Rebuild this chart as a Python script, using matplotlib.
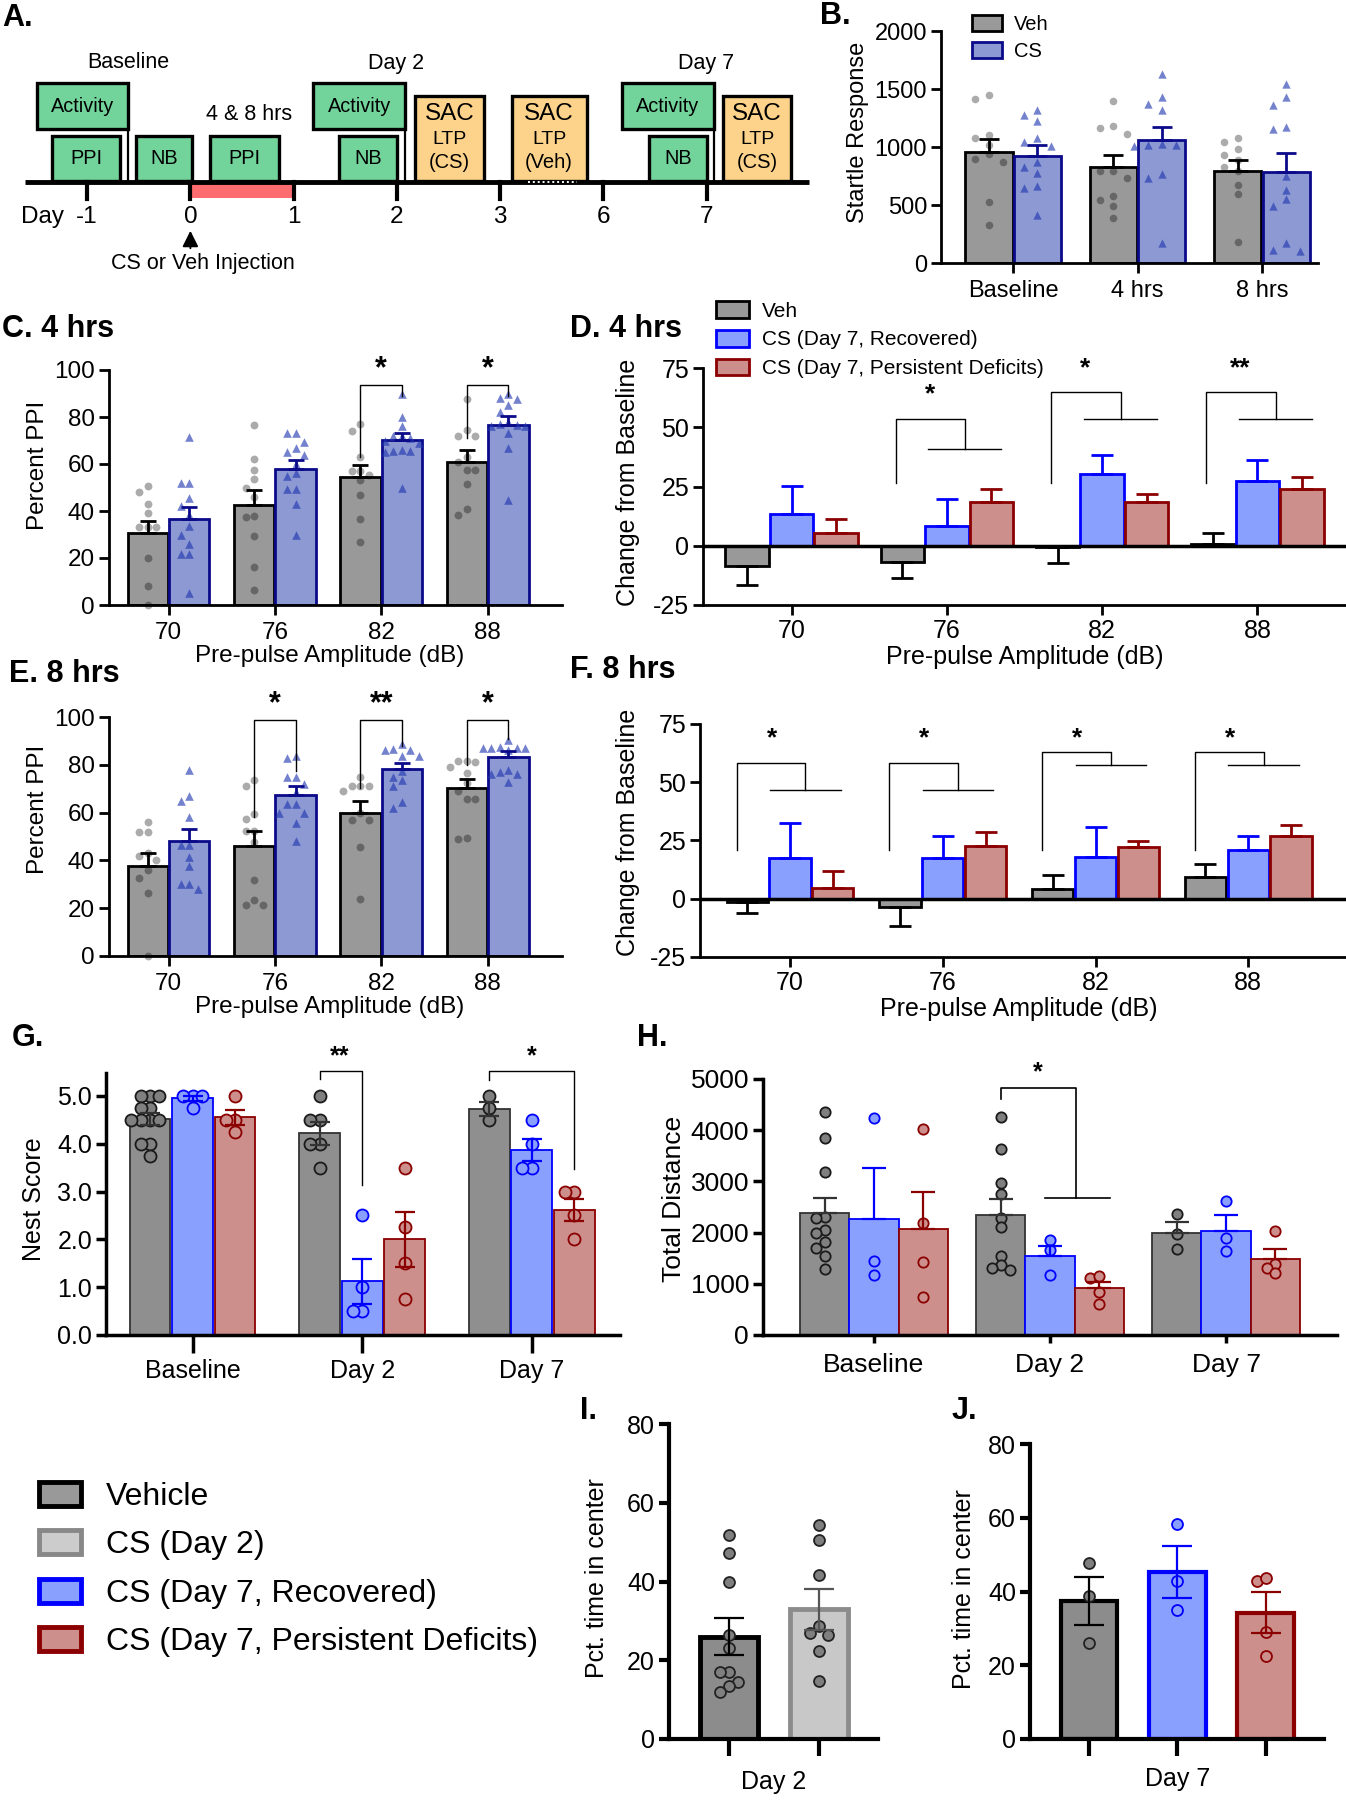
import numpy as np
import matplotlib
matplotlib.use('Agg')
import matplotlib.pyplot as plt
from matplotlib.patches import Patch, Rectangle
from matplotlib.ticker import FormatStrFormatter

plt.rcParams['font.family'] = ['Liberation Sans', 'DejaVu Sans']
plt.rcParams['axes.unicode_minus'] = False

W, H = 1346, 1800

# ---- A. timeline (schematic, in day-slot units)
timeline_days = ['-1', '0', '1', '2', '3', '6', '7']
sessions = [  # label, start, end, row
    ('Activity', -1.49, -0.60, 'upper'),
    ('PPI', -1.34, -0.68, 'lower'),
    ('NB', -0.53, 0.02, 'lower'),
    ('PPI', 0.19, 0.86, 'lower'),
    ('Activity', 1.19, 2.08, 'upper'),
    ('NB', 1.44, 2.00, 'lower'),
    ('SAC|LTP|(CS)', 2.18, 2.84, 'tall'),
    ('SAC|LTP|(Veh)', 3.11, 3.84, 'tall'),
    ('Activity', 4.18, 5.07, 'upper'),
    ('NB', 4.44, 5.00, 'lower'),
    ('SAC|LTP|(CS)', 5.16, 5.82, 'tall'),
]
phase_labels = [('Baseline', -0.60), ('Day 2', 1.99), ('Day 7', 4.99)]

# ---- B. startle response
startle_groups = ['Baseline', '4 hrs', '8 hrs']
startle_veh_mean = [960, 825, 795]
startle_veh_sem = [105, 110, 90]
startle_cs_mean = [925, 1060, 785]
startle_cs_sem = [90, 115, 160]
startle_veh_pts = [
    [1410, 1445, 1100, 1080, 1020, 940, 900, 870, 530, 330],
    [1400, 1180, 1160, 1110, 790, 790, 730, 580, 540, 490, 390],
    [1075, 985, 1040, 935, 885, 830, 795, 675, 595, 180],
]
startle_cs_pts = [
    [1315, 1275, 1220, 1080, 1045, 1005, 870, 830, 775, 665, 645, 415],
    [1630, 1430, 1370, 1320, 1030, 1020, 1020, 1010, 770, 730, 170],
    [1540, 1430, 1360, 1175, 1155, 750, 630, 550, 490, 170, 105, 110],
]

# ---- C / E. percent PPI
db_levels = ['70', '76', '82', '88']
ppi4_veh_mean = [30.5, 42.5, 54.5, 60.8]
ppi4_veh_sem = [5.4, 6.4, 5.0, 5.0]
ppi4_cs_mean = [36.6, 57.7, 70.3, 76.8]
ppi4_cs_sem = [5.0, 4.1, 3.0, 3.5]
ppi4_veh_pts = [
    [48, 50.5, 43, 39, 33, 33, 33, 20, 8, 0],
    [76.5, 62, 57.5, 53.5, 50, 46, 38, 37.5, 29.5, 16, 6.5],
    [77, 74, 63, 57, 57, 55.5, 53, 47, 36.5, 27],
    [87.5, 72, 72, 74.5, 63, 61, 57.5, 57.5, 51.5, 41, 38.5],
]
ppi4_cs_pts = [
    [71.5, 52, 52, 45.5, 42, 38.5, 33.5, 30, 26, 21.5, 21.5, 5],
    [73, 73, 69.5, 67, 65, 64, 60, 56, 55, 49.5, 49.5, 43, 30],
    [90, 80, 76, 72, 72, 71, 70, 69, 66, 65.5, 65.5, 65, 50],
    [90, 88, 87.5, 85, 82, 78, 77, 76.5, 76, 76, 73, 67, 44.5],
]
ppi8_veh_mean = [37.6, 46.0, 59.7, 70.1]
ppi8_veh_sem = [5.3, 6.3, 5.0, 3.9]
ppi8_cs_mean = [48.1, 67.5, 78.3, 83.2]
ppi8_cs_sem = [5.2, 3.7, 2.6, 2.4]
ppi8_veh_pts = [
    [56, 52, 52, 43, 42, 40, 36, 32.5, 26.5, 0],
    [73.5, 71, 59.5, 57.5, 52.5, 52.5, 47.5, 32, 23.5, 21.5, 21.5],
    [75, 71, 71, 71, 69, 60, 57, 57, 45.5, 24],
    [81.5, 81.5, 79, 81, 76.5, 72.5, 69, 65.5, 65.5, 49, 49.5],
]
ppi8_cs_pts = [
    [78, 67, 65, 58, 46.5, 46.5, 41.5, 37.5, 30, 30, 28],
    [83, 83.5, 75, 75, 72, 68.5, 63.5, 63.5, 60, 60, 55.5, 48],
    [88.5, 86, 86, 86.5, 83.5, 83.5, 77.5, 75, 73.5, 71, 64.5, 62],
    [90.5, 87, 87, 87, 87, 87.5, 86, 78, 77, 76, 76, 73],
]

# ---- D / F. change from baseline
chg4_veh_mean = [-8.7, -6.9, -0.5, 0.6]
chg4_veh_sem = [7.7, 6.9, 6.7, 4.9]
chg4_rec_mean = [13.2, 8.3, 30.2, 27.2]
chg4_rec_sem = [11.9, 11.5, 8.3, 8.8]
chg4_def_mean = [5.3, 18.5, 18.5, 23.9]
chg4_def_sem = [5.9, 5.5, 3.4, 5.0]
chg8_veh_mean = [-1.4, -3.6, 4.3, 9.3]
chg8_veh_sem = [4.7, 8.1, 5.7, 5.8]
chg8_rec_mean = [17.5, 17.4, 18.1, 20.9]
chg8_rec_sem = [14.8, 9.7, 12.7, 6.2]
chg8_def_mean = [4.7, 22.5, 22.1, 26.9]
chg8_def_sem = [7.0, 6.0, 2.8, 4.7]

# ---- G. nest score
days = ['Baseline', 'Day 2', 'Day 7']
nest_veh_mean = [4.52, 4.22, 4.73]
nest_veh_sem = [0.12, 0.24, 0.15]
nest_rec_mean = [4.95, 1.12, 3.87]
nest_rec_sem = [0.05, 0.47, 0.24]
nest_def_mean = [4.55, 2.0, 2.62]
nest_def_sem = [0.16, 0.58, 0.23]
nest_veh_pts = [[5, 5, 5, 4.75, 4.75, 4.5, 4.5, 4.5, 4.5, 4, 4, 3.75],
                [5, 4.5, 4.5, 4, 4, 3.5], [5, 4.75, 4.5]]
nest_rec_pts = [[5, 5, 5, 4.75], [2.5, 1, 0.5, 0.5], [4.5, 4, 3.5, 3.5]]
nest_def_pts = [[5, 4.5, 4.5, 4.25], [3.5, 2.25, 1.5, 0.75], [3, 3, 2.5, 2]]

# ---- H. total distance
dist_veh_mean = [2385, 2335, 1990]
dist_veh_sem = [300, 330, 215]
dist_rec_mean = [2270, 1550, 2040]
dist_rec_sem = [985, 195, 300]
dist_def_mean = [2080, 910, 1485]
dist_def_sem = [715, 125, 190]
dist_veh_pts = [[4350, 3840, 3180, 2300, 2290, 2060, 1990, 1810, 1690, 1550, 1290],
                [4250, 3640, 2970, 2750, 2290, 2100, 1540, 1360, 1260, 1310],
                [2370, 1980, 1670]]
dist_rec_pts = [[4230, 1450, 1175], [1850, 1655, 1175], [2615, 1895, 1645]]
dist_def_pts = [[4020, 2190, 1420, 740], [1110, 1145, 835, 600], [2040, 1390, 1305, 1210]]

# ---- I / J. percent time in center
center2_mean = [26.0, 33.0]
center2_sem = [4.7, 5.2]
center2_pts = [[51.7, 47.2, 39.8, 26.3, 23, 17, 17, 14.6, 13.4, 11.9],
               [54.4, 50.6, 41.7, 28.6, 26.5, 26.9, 22.4, 14.8]]
center7_mean = [37.4, 45.3, 34.3]
center7_sem = [6.4, 7.0, 5.5]
center7_pts = [[47.7, 38.9, 25.9], [58.3, 42.8, 35.1], [42.9, 43.6, 29.0, 22.4]]

# significance marks: (category, label)
ppi4_sig = [(2, '*'), (3, '*')]
ppi8_sig = [(1, '*'), (2, '**'), (3, '*')]
chg4_sig = [(1, '*'), (2, '*'), (3, '**')]
chg8_sig = [(0, '*'), (1, '*'), (2, '*'), (3, '*')]

VEH_FACE, VEH_EDGE = '#999999', 'black'
CS_FACE, CS_EDGE = '#8c99d3', '#0b0b8a'
REC_FACE, REC_EDGE = '#8aa0ff', '#0000ff'
DEF_FACE, DEF_EDGE = '#cc8f8b', '#8b0000'

fig = plt.figure(figsize=(W / 100, H / 100), dpi=100)


def fx(x):
    return x / W


def fy(y):
    return 1 - y / H


def px_axes(left, top, right, bottom):
    return fig.add_axes([fx(left), fy(bottom), (right - left) / W, (bottom - top) / H])


def style(ax, lw=2.0, size=17, xlen=7, ylen=7, xpad=5, ypad=3):
    ax.spines['top'].set_visible(False)
    ax.spines['right'].set_visible(False)
    ax.spines['left'].set_linewidth(lw)
    ax.spines['bottom'].set_linewidth(lw)
    ax.tick_params(axis='x', width=lw, length=xlen, labelsize=size, pad=xpad)
    ax.tick_params(axis='y', width=lw, length=ylen, labelsize=size, pad=ypad)


def label_px(ax, xlabel=None, xc=None, yc_x=None, ylabel=None, yx=None, yy=None, size=17):
    l, b, w, h = ax.get_position().bounds
    if xlabel:
        ax.set_xlabel(xlabel, fontsize=size, va='center')
        ax.xaxis.set_label_coords((fx(xc) - l) / w, (fy(yc_x) - b) / h)
    if ylabel:
        ax.set_ylabel(ylabel, fontsize=size, va='center')
        ax.yaxis.set_label_coords((fx(yx) - l) / w, (fy(yy) - b) / h)


def swarm(vals, step, tol):
    vals = np.asarray(vals, float)
    offs = np.zeros(len(vals))
    placed = []
    for i in np.argsort(-vals, kind='stable'):
        taken = [o for v, o in placed if abs(v - vals[i]) < tol]
        for c in [0, -1, 1, -2, 2, -3, 3, -4, 4]:
            if all(abs(c * step - o) > step * 0.5 for o in taken):
                offs[i] = c * step
                break
        placed.append((vals[i], offs[i]))
    return offs


def paired_bars(ax, vm, vs, cm, cs, vpts, cpts, step, tol, ms=32, cap=6):
    x = np.arange(len(vm))
    off, wd = 0.195, 0.38
    ax.bar(x - off, vm, wd, color=VEH_FACE, edgecolor=VEH_EDGE, lw=2, zorder=1)
    ax.bar(x + off, cm, wd, color=CS_FACE, edgecolor=CS_EDGE, lw=2, zorder=1)
    for i in range(len(x)):
        v = np.asarray(vpts[i], float)
        c = np.asarray(cpts[i], float)
        ax.scatter(x[i] - off + swarm(v, step, tol), v, s=ms, marker='o', color='black',
                   alpha=0.33, lw=0, zorder=2, clip_on=False)
        ax.scatter(x[i] + off + swarm(c, step, tol), c, s=ms * 1.2, marker='^', color='#1f35b0',
                   alpha=0.62, lw=0, zorder=2, clip_on=False)
    zero = np.zeros(len(x))
    ax.errorbar(x - off, vm, yerr=[zero, vs], fmt='none', ecolor=VEH_EDGE, elinewidth=2,
                capsize=cap, capthick=2, zorder=3)
    ax.errorbar(x + off, cm, yerr=[zero, cs], fmt='none', ecolor=CS_EDGE, elinewidth=2,
                capsize=cap, capthick=2, zorder=3)
    ax.set_xticks(x)


def sig_bracket(ax, xl, xr, ytop, yl, yr, lab, ylab, fs=22):
    ax.plot([xl, xl, xr, xr], [yl, ytop, ytop, yr], color='black', lw=1, clip_on=False, zorder=4)
    ax.text((xl + xr) / 2, ylab, lab, ha='center', va='center', fontsize=fs,
            weight='bold', clip_on=False)


def change_bars(ax, means, sems, wd, offs):
    x = np.arange(len(means[0]))
    styles = [(VEH_FACE, VEH_EDGE), (REC_FACE, REC_EDGE), (DEF_FACE, DEF_EDGE)]
    for j, (fc, ec) in enumerate(styles):
        m = np.asarray(means[j], float)
        s = np.asarray(sems[j], float)
        ax.bar(x + offs[j], m, wd, color=fc, edgecolor=ec, lw=2, zorder=1)
        lower = np.where(m < 0, s, 0)
        upper = np.where(m >= 0, s, 0)
        ax.errorbar(x + offs[j], m, yerr=[lower, upper], fmt='none', ecolor=ec, elinewidth=2,
                    capsize=8, capthick=2, zorder=3)
    ax.axhline(0, color='black', lw=2.5, zorder=2)
    ax.set_xticks(x)


def fork(ax, cat, yleg, ytop, ysub, lab, ylab, xl=-0.33, xr=0.12, s1=-0.12, s2=0.35, xlab=-0.11):
    ax.plot([cat + xl, cat + xl, cat + xr, cat + xr], [yleg, ytop, ytop, ysub],
            color='black', lw=1, clip_on=False, zorder=4)
    ax.plot([cat + s1, cat + s2], [ysub, ysub], color='black', lw=1, clip_on=False, zorder=4)
    ax.text(cat + xlab, ylab, lab, ha='center', va='center', fontsize=19, weight='bold',
            clip_on=False)


def group_bars(ax, means, sems, pts, wd, off, step, tol, ms, cap, upper_only):
    x = np.arange(len(means[0]))
    faces = ['#8f8f8f', REC_FACE, DEF_FACE]
    edges = ['#333333', REC_EDGE, DEF_EDGE]
    pfaces = ['#808080', REC_FACE, DEF_FACE]
    pedges = ['#1a1a1a', REC_EDGE, DEF_EDGE]
    for j in range(3):
        pos = x + (j - 1) * off
        m = np.asarray(means[j], float)
        s = np.asarray(sems[j], float)
        ax.bar(pos, m, wd, color=faces[j], edgecolor=edges[j], lw=1.3, zorder=1)
        for i in range(len(x)):
            v = np.asarray(pts[j][i], float)
            ax.scatter(pos[i] + swarm(v, step, tol), v, s=ms, facecolor=pfaces[j],
                       edgecolor=pedges[j], lw=1.3, zorder=2, clip_on=False)
        lo = np.zeros(len(x)) if upper_only else s
        ax.errorbar(pos, m, yerr=[lo, s], fmt='none', ecolor=edges[j], elinewidth=1.6,
                    capsize=cap, capthick=1.6, zorder=3)
    ax.set_xticks(x)


def center_bars(ax, means, sems, pts, faces, edges, bar_lw):
    x = np.arange(len(means))
    for i in range(len(means)):
        ax.bar(x[i], means[i], 0.64, color=faces[i], edgecolor=edges[i], lw=bar_lw, zorder=1)
        v = np.asarray(pts[i], float)
        pf = '#7f7f7f' if edges[i] in ('black', '#8c8c8c') else faces[i]
        pe = '#222222' if edges[i] in ('black', '#8c8c8c') else edges[i]
        ax.scatter(x[i] + swarm(v, 0.1, 2.6), v, s=62, facecolor=pf, edgecolor=pe, lw=1.3,
                   zorder=2, clip_on=False)
        ec = '#555555' if edges[i] == '#8c8c8c' else edges[i]
        ax.errorbar(x[i], means[i], yerr=sems[i], fmt='none', ecolor=ec, elinewidth=1.6,
                    capsize=11, capthick=1.6, zorder=3)
    ax.set_xticks(x)
    ax.set_xticklabels([''] * len(x))


# ================= A
axA = px_axes(0, 0, 826, 281)
axA.set_xlim(-1.844, 6.156)
axA.set_ylim(281, 0)
axA.axis('off')
rows = {'upper': (83, 129), 'lower': (136, 181), 'tall': (96, 181)}
for label, x0, x1, row in sessions:
    y0, y1 = rows[row]
    sac = label.startswith('SAC')
    axA.add_patch(Rectangle((x0, y0), x1 - x0, y1 - y0, facecolor='#fdd38b' if sac else '#72d49b',
                            edgecolor='black', lw=2.4, zorder=2))
    xc = (x0 + x1) / 2
    if sac:
        top, mid, bot = label.split('|')
        axA.text(xc, 114, top, ha='center', va='center', fontsize=17.5)
        axA.text(xc, 139, mid, ha='center', va='center', fontsize=14)
        axA.text(xc, 163, bot, ha='center', va='center', fontsize=14.5)
    else:
        axA.text(xc, (y0 + y1) / 2, label, ha='center', va='center', fontsize=14.3)
    if row == 'upper':
        axA.plot([x1, x1], [y1, 182], color='black', lw=1.6, zorder=1)
axA.add_patch(Rectangle((0, 182), 1, 16, facecolor='#fd6c6f', edgecolor='none', zorder=1))
axA.plot([-1.6, 5.99], [182, 182], color='black', lw=3.5, zorder=3, solid_capstyle='butt')
axA.plot([3.27, 3.74], [182, 182], color='white', lw=1.4, ls=(0, (1, 1.5)), zorder=4)
for k, lab in enumerate(timeline_days):
    slot = k - 1
    axA.plot([slot, slot], [182, 199], color='black', lw=3, zorder=3)
    axA.text(slot, 217, lab, ha='center', va='center', fontsize=17.5)
axA.text(-1.43, 217, 'Day', ha='center', va='center', fontsize=17.5)
for lab, xc in phase_labels:
    axA.text(xc, 63, lab, ha='center', va='center', fontsize=15.5)
axA.text(0.57, 115, '4 & 8 hrs', ha='center', va='center', fontsize=15.5)
axA.annotate('', xy=(0, 228), xytext=(0, 251),
             arrowprops=dict(arrowstyle='-|>', color='black', lw=1.4, mutation_scale=24))
axA.text(0.12, 263, 'CS or Veh Injection', ha='center', va='center', fontsize=15.5)

# ================= B
axB = px_axes(941, 31, 1318, 263)
paired_bars(axB, startle_veh_mean, startle_veh_sem, startle_cs_mean, startle_cs_sem,
            startle_veh_pts, startle_cs_pts, step=0.11, tol=80, ms=30, cap=7)
axB.set_ylim(0, 2000)
axB.set_xlim(-0.58, 2.45)
axB.set_yticks([0, 500, 1000, 1500, 2000])
axB.set_xticklabels(startle_groups)
style(axB, size=17)
label_px(axB, ylabel='Startle Response', yx=858, yy=132, size=17)
fig.legend(handles=[Patch(facecolor=VEH_FACE, edgecolor='black', lw=2, label='Veh'),
                    Patch(facecolor=CS_FACE, edgecolor=CS_EDGE, lw=2, label='CS')],
           loc='upper left', bbox_to_anchor=(fx(972), fy(15)), frameon=False, fontsize=14.5,
           handlelength=1.5, handleheight=0.85, labelspacing=0.4, borderpad=0,
           borderaxespad=0, handletextpad=0.6)

# ================= C
axC = px_axes(109, 370, 562, 605)
paired_bars(axC, ppi4_veh_mean, ppi4_veh_sem, ppi4_cs_mean, ppi4_cs_sem,
            ppi4_veh_pts, ppi4_cs_pts, step=0.08, tol=3.6)
axC.set_ylim(0, 100)
axC.set_xlim(-0.56, 3.7)
axC.set_yticks(range(0, 101, 20))
axC.set_xticklabels(db_levels)
style(axC, size=17.5)
label_px(axC, xlabel='Pre-pulse Amplitude (dB)', xc=330, yc_x=656,
         ylabel='Percent PPI', yx=38, yy=465, size=17.5)
c_legs = {2: (63, 89), 3: (71, 89)}
for cat, lab in ppi4_sig:
    yl, yr = c_legs[cat]
    sig_bracket(axC, cat - 0.195, cat + 0.195, 93.5, yl, yr, lab, 100.5)

# ================= D
axD = px_axes(703, 368, 1346, 605)
change_bars(axD, [chg4_veh_mean, chg4_rec_mean, chg4_def_mean],
            [chg4_veh_sem, chg4_rec_sem, chg4_def_sem], 0.28, [-0.287, 0, 0.287])
axD.set_ylim(-25, 75)
axD.set_xlim(-0.57, 3.57)
axD.set_yticks([-25, 0, 25, 50, 75])
axD.set_xticklabels(db_levels)
style(axD, size=18, xpad=3)
label_px(axD, xlabel='Pre-pulse Amplitude (dB)', xc=1025, yc_x=657,
         ylabel='Change from Baseline', yx=628, yy=482, size=18)
d_forks = {1: (53.4, 41, 64), 2: (65, 53.4, 75), 3: (65, 53.4, 75)}
for cat, lab in chg4_sig:
    ytop, ysub, ylab = d_forks[cat]
    fork(axD, cat, 26.4, ytop, ysub, lab, ylab)
fig.legend(handles=[Patch(facecolor=VEH_FACE, edgecolor='black', lw=2, label='Veh'),
                    Patch(facecolor=REC_FACE, edgecolor=REC_EDGE, lw=2, label='CS (Day 7, Recovered)'),
                    Patch(facecolor=DEF_FACE, edgecolor=DEF_EDGE, lw=2,
                          label='CS (Day 7, Persistent Deficits)')],
           loc='upper left', bbox_to_anchor=(fx(716), fy(301)), frameon=False, fontsize=15,
           handlelength=1.6, handleheight=0.85, labelspacing=0.45, borderpad=0,
           borderaxespad=0, handletextpad=0.6)

# ================= E
axE = px_axes(109, 717, 562, 956)
paired_bars(axE, ppi8_veh_mean, ppi8_veh_sem, ppi8_cs_mean, ppi8_cs_sem,
            ppi8_veh_pts, ppi8_cs_pts, step=0.08, tol=3.6)
axE.set_ylim(0, 100)
axE.set_xlim(-0.56, 3.7)
axE.set_yticks(range(0, 101, 20))
axE.set_xticklabels(db_levels)
style(axE, size=17.5)
label_px(axE, xlabel='Pre-pulse Amplitude (dB)', xc=330, yc_x=1007,
         ylabel='Percent PPI', yx=38, yy=809, size=17.5)
e_legs = {1: (58, 77.6), 2: (70.4, 88), 3: (80, 91)}
for cat, lab in ppi8_sig:
    yl, yr = e_legs[cat]
    sig_bracket(axE, cat - 0.195, cat + 0.195, 98.6, yl, yr, lab, 105.5)

# ================= F
axF = px_axes(700, 724, 1346, 957)
change_bars(axF, [chg8_veh_mean, chg8_rec_mean, chg8_def_mean],
            [chg8_veh_sem, chg8_rec_sem, chg8_def_sem], 0.27, [-0.28, 0, 0.28])
axF.set_ylim(-25, 75)
axF.set_xlim(-0.59, 3.64)
axF.set_yticks([-25, 0, 25, 50, 75])
axF.set_xticklabels(db_levels)
style(axF, size=18, xpad=3)
label_px(axF, xlabel='Pre-pulse Amplitude (dB)', xc=1019, yc_x=1009,
         ylabel='Change from Baseline', yx=628, yy=832, size=18)
f_forks = {0: (58.4, 46.7), 1: (58.4, 46.7), 2: (63.1, 57.3), 3: (63.1, 57.3)}
for cat, lab in chg8_sig:
    ytop, ysub = f_forks[cat]
    fork(axF, cat, 21, ytop, ysub, lab, 68.7, xl=-0.35, xr=0.1, s1=-0.13, s2=0.33, xlab=-0.12)

# ================= G
axG = px_axes(106, 1073, 620, 1335)
group_bars(axG, [nest_veh_mean, nest_rec_mean, nest_def_mean],
           [nest_veh_sem, nest_rec_sem, nest_def_sem],
           [nest_veh_pts, nest_rec_pts, nest_def_pts], 0.24, 0.25, 0.055, 0.2, 75, 7, False)
axG.set_ylim(0, 5.48)
axG.set_xlim(-0.51, 2.52)
axG.set_yticks(range(6))
axG.yaxis.set_major_formatter(FormatStrFormatter('%.1f'))
axG.set_xticklabels(days)
style(axG, lw=2.5, size=18, xlen=13, xpad=4)
label_px(axG, ylabel='Nest Score', yx=34, yy=1199, size=18)
sig_bracket(axG, 0.75, 1.0, 5.53, 5.35, 3.13, '', 5.8)
axG.text(0.87, 5.82, '**', ha='center', va='center', fontsize=18, weight='bold')
sig_bracket(axG, 1.75, 2.25, 5.53, 5.33, 3.47, '', 5.8)
axG.text(2.0, 5.82, '*', ha='center', va='center', fontsize=18, weight='bold')

# ================= H
axH = px_axes(763, 1079, 1337, 1335)
group_bars(axH, [dist_veh_mean, dist_rec_mean, dist_def_mean],
           [dist_veh_sem, dist_rec_sem, dist_def_sem],
           [dist_veh_pts, dist_rec_pts, dist_def_pts], 0.28, 0.28, 0.05, 160, 55, 8.5, True)
axH.set_ylim(0, 5000)
axH.set_xlim(-0.63, 2.63)
axH.set_yticks(range(0, 5001, 1000))
axH.set_xticklabels(days)
style(axH, lw=2.5, size=19, xlen=6, xpad=7)
label_px(axH, ylabel='Total Distance', yx=674, yy=1199, size=19)
axH.plot([0.72, 0.72, 1.15, 1.15], [4608, 4817, 4817, 2680], color='black', lw=1.2,
         clip_on=False, zorder=4)
axH.plot([0.97, 1.34], [2680, 2680], color='black', lw=1.2, zorder=4)
axH.text(0.93, 5130, '*', ha='center', va='center', fontsize=18, weight='bold', clip_on=False)

# ================= I
axI = px_axes(669, 1424, 878, 1739)
center_bars(axI, center2_mean, center2_sem, center2_pts,
            ['#8c8c8c', '#c8c8c8'], ['black', '#8c8c8c'], 3.5)
axI.set_ylim(0, 80)
axI.set_xlim(-0.67, 1.66)
axI.set_yticks(range(0, 81, 20))
style(axI, lw=3, size=18, xlen=12)
label_px(axI, xlabel='Day 2', xc=774, yc_x=1782, ylabel='Pct. time in center',
         yx=597, yy=1578, size=18)

# ================= J
axJ = px_axes(1030, 1444, 1324, 1739)
center_bars(axJ, center7_mean, center7_sem, center7_pts,
            ['#8c8c8c', REC_FACE, DEF_FACE], ['black', REC_EDGE, DEF_EDGE], 3.0)
axJ.set_ylim(0, 80)
axJ.set_xlim(-0.67, 2.66)
axJ.set_yticks(range(0, 81, 20))
style(axJ, lw=3, size=18, xlen=12)
label_px(axJ, xlabel='Day 7', xc=1178, yc_x=1779, ylabel='Pct. time in center',
         yx=964, yy=1589, size=18)

# ================= group legend
fig.legend(handles=[Patch(facecolor='#999999', edgecolor='black', lw=3.5, label='Vehicle'),
                    Patch(facecolor='#cccccc', edgecolor='#888888', lw=3.5, label='CS (Day 2)'),
                    Patch(facecolor=REC_FACE, edgecolor=REC_EDGE, lw=3.5,
                          label='CS (Day 7, Recovered)'),
                    Patch(facecolor=DEF_FACE, edgecolor=DEF_EDGE, lw=3.5,
                          label='CS (Day 7, Persistent Deficits)')],
           loc='upper left', bbox_to_anchor=(fx(39), fy(1482)), frameon=False, fontsize=23,
           handlelength=1.3, handleheight=0.78, labelspacing=0.57, borderpad=0,
           borderaxespad=0, handletextpad=0.8)

# ================= panel letters
for txt, x, y in [('A.', 2, 18), ('B.', 820, 16), ('C. 4 hrs', 2, 329), ('D. 4 hrs', 570, 329),
                  ('E. 8 hrs', 9, 674), ('F. 8 hrs', 570, 670), ('G.', 12, 1038),
                  ('H.', 637, 1038), ('I.', 580, 1411), ('J.', 952, 1411)]:
    fig.text(fx(x), fy(y), txt, fontsize=22, weight='bold', ha='left', va='center')

fig.savefig('out.png', dpi=100)
